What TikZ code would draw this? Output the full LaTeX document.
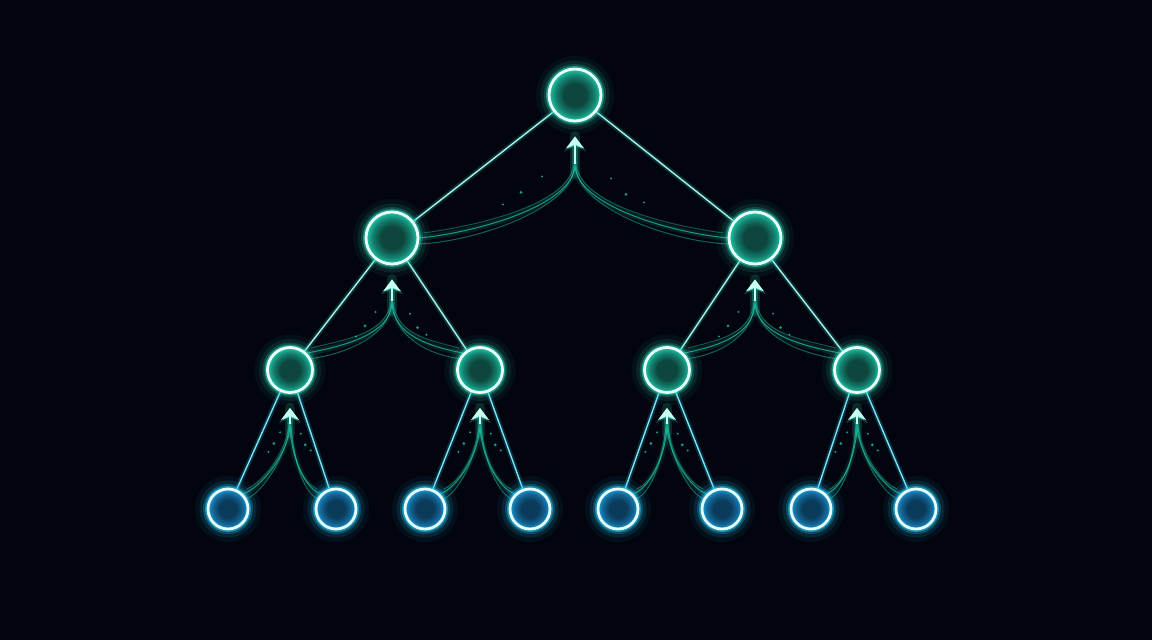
\documentclass[tikz,border=0pt]{standalone}
\usetikzlibrary{calc,arrows.meta,backgrounds}
\definecolor{bg}{HTML}{02050E}
\definecolor{tealglow}{HTML}{2DE0C0}
\definecolor{tealin}{HTML}{0D463D}
\definecolor{tealmid}{HTML}{138270}
\definecolor{tealout}{HTML}{20C8AA}
\definecolor{blueglow}{HTML}{22C8F4}
\definecolor{bluein}{HTML}{0B3B5A}
\definecolor{bluemid}{HTML}{126494}
\definecolor{blueout}{HTML}{1E9AD0}
\definecolor{ringc}{HTML}{EAFFFA}
\definecolor{ringb}{HTML}{E6FCFF}
\definecolor{edgec}{HTML}{A8F0F0}
\definecolor{edgeb}{HTML}{78E4F4}
\definecolor{strandc}{HTML}{22D0B0}
\definecolor{arrowcol}{HTML}{C8FFF0}
\pgfdeclareradialshading{tealball}{\pgfpoint{0bp}{0bp}}{color(0bp)=(tealin); color(11bp)=(tealin); color(19bp)=(tealmid); color(25bp)=(tealout); color(50bp)=(tealout)}
\pgfdeclareradialshading{blueball}{\pgfpoint{0bp}{0bp}}{color(0bp)=(bluein); color(11bp)=(bluein); color(19bp)=(bluemid); color(25bp)=(blueout); color(50bp)=(blueout)}
\newcommand\flowup[8]{%
  \coordinate (#1tip) at ($(#1.south)+(0,14)$);
  \coordinate (#1foot) at ($(#1tip)+(0,#8)$);
  \draw[strandglow] (#2.#4) .. controls +(#6,-6) and +(0,#7) .. (#1foot);
  \draw[strandglow] (#3.#5) .. controls +(-#6,-6) and +(0,#7) .. (#1foot);
  \draw[strand] (#2.#4) .. controls +(#6,-6) and +(0,#7) .. (#1foot);
  \draw[strand] (#3.#5) .. controls +(-#6,-6) and +(0,#7) .. (#1foot);
  \draw[strand, draw opacity=0.45] ($(#2.#4)+(0,6)$) .. controls +(#6,-3) and +(-2,#7) .. ($(#1foot)+(-1,3)$);
  \draw[strand, draw opacity=0.45] ($(#3.#5)+(0,6)$) .. controls +(-#6,-3) and +(2,#7) .. ($(#1foot)+(1,3)$);
  \draw[strand, draw opacity=0.4] ($(#2.#4)+(4,-5)$) .. controls +(#6,-8) and +(-1,#7) .. ($(#1foot)+(-1,-2)$);
  \draw[strand, draw opacity=0.4] ($(#3.#5)+(-4,-5)$) .. controls +(-#6,-8) and +(1,#7) .. ($(#1foot)+(1,-2)$);
  \fill[dotc] ($(#1foot)+(-#6*0.9,#7*0.7)$) circle (1.5);
  \fill[dotc] ($(#1foot)+(#6*0.85,#7*0.75)$) circle (1.5);
  \fill[dotc] ($(#1foot)+(-#6*0.55,#7*0.3)$) circle (1.1);
  \fill[dotc] ($(#1foot)+(#6*0.6,#7*0.35)$) circle (1.1);
  \fill[dotc] ($(#1foot)+(-#6*1.2,#7*1.0)$) circle (1.1);
  \fill[dotc] ($(#1foot)+(#6*1.15,#7*0.95)$) circle (1.1);
  \draw[stemglow] ($(#1foot)+(0,10)$) -- (#1tip);
  \draw[arrowglow] (#1foot) -- (#1tip);
  \draw[arrowc] (#1foot) -- (#1tip);
}
\begin{document}
\begin{tikzpicture}[x=1pt,y=-1pt,
  inode/.style={circle, minimum size=#1, inner sep=0pt, draw=ringc, line width=2.8pt,
    shading=tealball,
    preaction={draw=tealglow, line width=26pt, draw opacity=0.05},
    preaction={draw=tealglow, line width=17pt, draw opacity=0.1},
    preaction={draw=tealglow, line width=10pt, draw opacity=0.2},
    preaction={draw=tealglow, line width=6pt, draw opacity=0.5}},
  leaf/.style={circle, minimum size=40pt, inner sep=0pt, draw=ringb, line width=2.8pt,
    shading=blueball,
    preaction={draw=blueglow, line width=26pt, draw opacity=0.06},
    preaction={draw=blueglow, line width=17pt, draw opacity=0.12},
    preaction={draw=blueglow, line width=10pt, draw opacity=0.25},
    preaction={draw=blueglow, line width=6pt, draw opacity=0.55}},
  edge/.style={draw=edgec, line width=1.4pt,
    preaction={draw=tealglow, line width=5pt, draw opacity=0.2}},
  edgeleaf/.style={draw=edgeb, line width=1.4pt,
    preaction={draw=blueglow, line width=5pt, draw opacity=0.2}},
  strand/.style={draw=strandc, line width=1pt, draw opacity=0.7},
  strandglow/.style={draw=strandc, line width=6pt, draw opacity=0.12},
  dotc/.style={fill=strandc, fill opacity=0.75},
  stemglow/.style={draw=tealglow, line width=10pt, draw opacity=0.16, line cap=round},
  arrowc/.style={draw=arrowcol, line width=2.4pt, -{Stealth[length=12pt,width=18pt,inset=4pt]}},
  arrowglow/.style={draw=tealglow, line width=6pt, draw opacity=0.28, -{Stealth[length=15pt,width=22pt,inset=5pt]}}
]
\useasboundingbox (0,0) rectangle (1152,640);
% nodes
\node[inode=52pt] (r) at (575,95) {};
\node[inode=52pt] (a) at (392,238) {};
\node[inode=52pt] (b) at (755,238) {};
\node[inode=45pt] (c) at (290,370) {};
\node[inode=45pt] (d) at (480,370) {};
\node[inode=45pt] (e) at (667,370) {};
\node[inode=45pt] (f) at (857,370) {};
\node[leaf] (g1) at (228,509) {};
\node[leaf] (g2) at (336,509) {};
\node[leaf] (g3) at (425,509) {};
\node[leaf] (g4) at (530,509) {};
\node[leaf] (g5) at (618,509) {};
\node[leaf] (g6) at (722,509) {};
\node[leaf] (g7) at (811,509) {};
\node[leaf] (g8) at (916,509) {};
\begin{scope}[on background layer]
  \fill[bg] (0,0) rectangle (1152,640);
  \draw[edge] (r) -- (a);
  \draw[edge] (r) -- (b);
  \draw[edge] (a) -- (c);
  \draw[edge] (a) -- (d);
  \draw[edge] (b) -- (e);
  \draw[edge] (b) -- (f);
  \draw[edgeleaf] (c) -- (g1);
  \draw[edgeleaf] (c) -- (g2);
  \draw[edgeleaf] (d) -- (g3);
  \draw[edgeleaf] (d) -- (g4);
  \draw[edgeleaf] (e) -- (g5);
  \draw[edgeleaf] (e) -- (g6);
  \draw[edgeleaf] (f) -- (g7);
  \draw[edgeleaf] (f) -- (g8);
  \flowup{r}{a}{b}{east}{west}{60}{40}{28}
  \flowup{a}{c}{d}{45}{135}{30}{35}{22}
  \flowup{b}{e}{f}{45}{135}{30}{35}{22}
  \flowup{c}{g1}{g2}{45}{135}{18}{28}{16}
  \flowup{d}{g3}{g4}{45}{135}{18}{28}{16}
  \flowup{e}{g5}{g6}{45}{135}{18}{28}{16}
  \flowup{f}{g7}{g8}{45}{135}{18}{28}{16}
\end{scope}
\end{tikzpicture}
\end{document}
